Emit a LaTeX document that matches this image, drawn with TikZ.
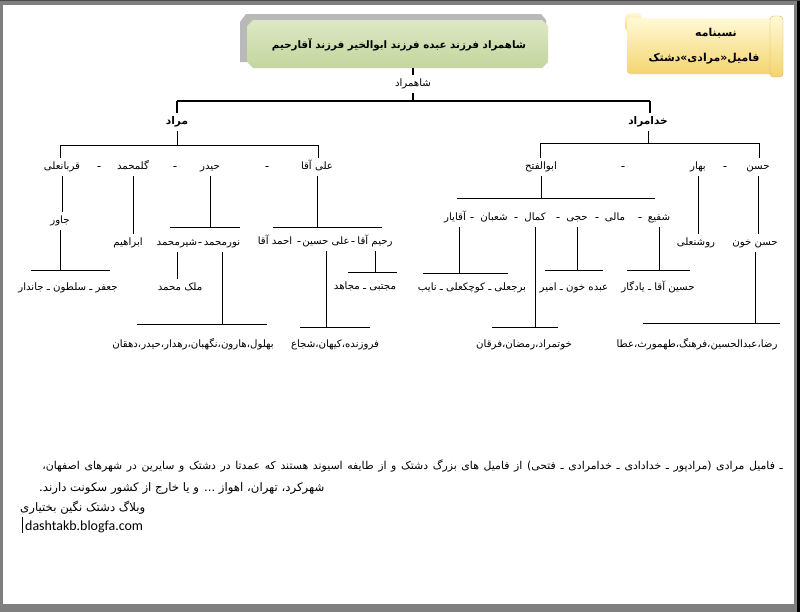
\documentclass[tikz,border=0pt]{standalone}
\usepackage{fontspec}
\newfontfamily\fa[Script=Arabic]{DejaVu Sans}
\newfontfamily\blogfont{Carlito}
\TeXXeTstate=1
\newcommand{\rl}[1]{\beginR#1\endR}
\usetikzlibrary{positioning}
\definecolor{framegray}{HTML}{7F7F7F}
\definecolor{titletop}{HTML}{DCE8C4}
\definecolor{titlemid}{HTML}{F2F7E6}
\definecolor{titlebot}{HTML}{C3D69E}
\definecolor{cardtop}{HTML}{FFF9D6}
\definecolor{cardbot}{HTML}{F4D46E}
\tikzset{
    tree/.style={font=\fa\fontsize{8.7}{9}\selectfont},
    tree name/.style={inner sep=0pt, outer sep=3pt, text height=7pt, text depth=2.5pt},
    tree head/.style={tree name, font=\fa\bfseries\fontsize{9}{10}\selectfont},
    tree dash/.style={inner sep=0pt},
    tree edge/.style={line width=0.6pt},
    tree trunk/.style={line width=2pt},
    tree stem/.style={line width=1.2pt},
}

\begin{document}
\begin{tikzpicture}[x=0.03cm, y=-0.03cm, tree,
    title/.style={font=\fa\bfseries\fontsize{8.8}{10}\selectfont, inner sep=1pt},
    card/.style={font=\fa\bfseries\fontsize{9.3}{10}\selectfont, inner sep=1pt},
    note/.style={inner sep=0pt, anchor=base east, font=\fa\fontsize{9.3}{10}\selectfont}
  ]
    \useasboundingbox (0,0) rectangle (800,612);
    % frame
    \fill[framegray] (0,0) rectangle (800,612);
    \fill[white] (3,5) rectangle (794,604);
    \fill[black] (797,0) rectangle (800,612);
    \fill[black!70] (0,0) rectangle (800,1);

    % title scroll
    \fill[gray!55] (240,22) -- (246,14) -- (541,14) -- (546,20) -- (546,62) -- (240,62) -- cycle;
    \shade[top color=titletop, middle color=titlemid, bottom color=titlebot]
      (247,26) -- (253,20) -- (542,20) -- (548,26) -- (548,62) -- (542,68) -- (253,68) -- (247,62) -- cycle;
    \node[title] (title) at (399,45) {\rl{شاهمراد فرزند عبده فرزند ابوالخیر فرزند آقارحیم}};
    \coordinate (titlebase) at (413,68);

    % name card
    \shade[top color=cardtop, bottom color=cardbot, rounded corners=5pt] (625,13) rectangle (642,32);
    \shade[top color=cardtop, bottom color=cardbot, rounded corners=3pt] (627,18) rectangle (776,74);
    \shade[top color=cardtop, bottom color=cardbot, rounded corners=3pt, draw=cardbot!85!black, line width=0.3pt] (770,16) rectangle (783,77);
    \node[card] (card1) at (716,33) {\rl{نسبنامه}};
    \node[card] (card2) at (704,59) {\rl{فامیل«مرادی»دشتک}};

    % first generations
    \node[tree name] (shahmorad) at (413,84) {\rl{شاهمراد}};
    \node[tree head] (morad) at (177,122) {\rl{مراد}};
    \node[tree head] (khodamorad) at (648,122) {\rl{خدامراد}};
    \coordinate (trunkL) at (177,101);
    \coordinate (trunkR) at (650,101);
    \draw[tree stem] (titlebase) -- (shahmorad);
    \draw[tree stem] (shahmorad) -- (shahmorad |- trunkL);
    \draw[tree trunk] (trunkL) -- (trunkR);
    \draw[tree stem] (trunkL) -- (morad);
    \draw[tree stem] (trunkR) -- (trunkR |- khodamorad.north);

    % children of morad
    \node[tree name] (ghorbanali) at (62,167) {\rl{قربانعلی}};
    \node[tree dash] (md1) at (99,167) {\rl{ـ}};
    \node[tree name] (golmohammad) at (133,167) {\rl{گلمحمد}};
    \node[tree dash] (md2) at (175,167) {\rl{ـ}};
    \node[tree name] (heydar) at (210,167) {\rl{حیدر}};
    \node[tree dash] (md3) at (267,167) {\rl{ـ}};
    \node[tree name] (aliagha) at (317,167) {\rl{علی آقا}};
    \coordinate (mbarL) at (60,145);
    \coordinate (mbarR) at (318,145);
    \draw[tree edge] (morad) -- (morad |- mbarL);
    \draw[tree edge] (mbarL |- ghorbanali.north) -- (mbarL) -- (mbarR) -- (mbarR |- aliagha.north);

    % children of khodamorad
    \node[tree name] (hasan) at (758,167) {\rl{حسن}};
    \node[tree dash] (kd1) at (725,167) {\rl{ـ}};
    \node[tree name] (bahar) at (698,167) {\rl{بهار}};
    \node[tree dash] (kd2) at (623,167) {\rl{ـ}};
    \node[tree name] (abolfath) at (541,167) {\rl{ابوالفتح}};
    \coordinate (kbarL) at (540,143);
    \coordinate (kbarR) at (759,143);
    \draw[tree edge] (khodamorad) -- (khodamorad |- kbarL);
    \draw[tree edge] (kbarL |- abolfath.north) -- (kbarL) -- (kbarR) -- (kbarR |- hasan.north);

    % ghorbanali
    \node[tree name] (javer) at (60,221) {\rl{جاور}};
    \node[tree name] (jafar) at (68,288) {\rl{جعفر ـ سلطون ـ جاندار}};
    \coordinate (jbarL) at (31,270);
    \coordinate (jbarR) at (110,270);
    \draw[tree edge] (ghorbanali.south) -- (ghorbanali.south |- javer.north);
    \draw[tree edge] (javer.south) -- (javer.south |- jbarL);
    \draw[tree edge] (jbarL) -- (jbarR);

    % golmohammad
    \node[tree name] (ebrahim) at (128,243) {\rl{ابراهیم}};
    \draw[tree edge] (golmohammad.south) -- (golmohammad.south |- ebrahim.north);

    % heydar
    \node[tree name] (shirmohammad) at (177,243) {\rl{شیرمحمد}};
    \node[tree dash] (hd1) at (200,243) {\rl{ـ}};
    \node[tree name] (nourmohammad) at (222,243) {\rl{نورمحمد}};
    \node[tree name] (malekmohammad) at (180,288) {\rl{ملک محمد}};
    \node[tree name] (bohlul) at (193,345) {\rl{بهلول،هارون،نگهبان،رهدار،حیدر،دهقان}};
    \coordinate (hbarL) at (170,227);
    \coordinate (hbarR) at (240,227);
    \coordinate (nbarL) at (137,324);
    \coordinate (nbarR) at (267,324);
    \draw[tree edge] (heydar.south) -- (heydar.south |- hbarL);
    \draw[tree edge] (hbarL) -- (hbarR);
    \draw[tree edge] (shirmohammad.south) -- (shirmohammad.south |- malekmohammad.north);
    \draw[tree edge] (nourmohammad.south) -- (nourmohammad.south |- nbarL);
    \draw[tree edge] (nbarL) -- (nbarR);

    % aliagha
    \node[tree name] (ahmadagha) at (275,242) {\rl{احمد آقا}};
    \node[tree dash] (ad1) at (299,242) {\rl{ـ}};
    \node[tree name] (alihossein) at (326,242) {\rl{علی حسین}};
    \node[tree dash] (ad2) at (353,242) {\rl{ـ}};
    \node[tree name] (rahimagha) at (375,242) {\rl{رحیم آقا}};
    \node[tree name] (mojtaba) at (365,287) {\rl{مجتبی ـ مجاهد}};
    \node[tree name] (forouzandeh) at (335,345) {\rl{فروزنده،کیهان،شجاع}};
    \coordinate (abarL) at (273,227);
    \coordinate (abarR) at (382,227);
    \coordinate (rbarL) at (348,272);
    \coordinate (rbarR) at (397,272);
    \coordinate (fbarL) at (300,327);
    \coordinate (fbarR) at (370,327);
    \draw[tree edge] (aliagha.south) -- (aliagha.south |- abarL);
    \draw[tree edge] (abarL) -- (abarR);
    \draw[tree edge] (rahimagha.south) -- (rahimagha.south |- rbarL);
    \draw[tree edge] (rbarL) -- (rbarR);
    \draw[tree edge] (alihossein.south) -- (alihossein.south |- fbarL);
    \draw[tree edge] (fbarL) -- (fbarR);

    % hasan
    \node[tree name] (hasankhoun) at (755,243) {\rl{حسن خون}};
    \node[tree name] (reza) at (697,345) {\rl{رضا،عبدالحسین،فرهنگ،طهمورث،عطا}};
    \coordinate (zbarL) at (643,323);
    \coordinate (zbarR) at (780,323);
    \draw[tree edge] (hasan.south) -- (hasan.south |- hasankhoun.north);
    \draw[tree edge] (hasankhoun.south) -- (hasankhoun.south |- zbarL);
    \draw[tree edge] (zbarL) -- (zbarR);

    % bahar
    \node[tree name] (roshanali) at (696,243) {\rl{روشنعلی}};
    \draw[tree edge] (bahar.south) -- (bahar.south |- roshanali.north);

    % abolfath
    \node[tree name] (shafi) at (659,218) {\rl{شفیع}};
    \node[tree dash] (fd1) at (640,218) {\rl{ـ}};
    \node[tree name] (mali) at (615,218) {\rl{مالی}};
    \node[tree dash] (fd2) at (597,218) {\rl{ـ}};
    \node[tree name] (haji) at (577,218) {\rl{حجی}};
    \node[tree dash] (fd3) at (558,218) {\rl{ـ}};
    \node[tree name] (kamal) at (535,218) {\rl{کمال}};
    \node[tree dash] (fd4) at (516,218) {\rl{ـ}};
    \node[tree name] (shaban) at (494,218) {\rl{شعبان}};
    \node[tree dash] (fd5) at (472,218) {\rl{ـ}};
    \node[tree name] (aghayar) at (455,218) {\rl{آقایار}};
    \coordinate (fbarL2) at (457,198);
    \coordinate (fbarR2) at (655,198);
    \draw[tree edge] (abolfath.south) -- (abolfath.south |- fbarL2);
    \draw[tree edge] (fbarL2) -- (fbarR2);

    \node[tree name] (barjali) at (472,288) {\rl{برجعلی ـ کوچکعلی ـ نایب}};
    \node[tree name] (khotmorad) at (524,345) {\rl{خوتمراد،رمضان،فرقان}};
    \node[tree name] (abdeh) at (574,288) {\rl{عبده خون ـ امیر}};
    \node[tree name] (hosseinagha) at (658,288) {\rl{حسین آقا ـ یادگار}};
    \coordinate (gbarL) at (423,273);
    \coordinate (gbarR) at (508,273);
    \coordinate (kmbarL) at (492,327);
    \coordinate (kmbarR) at (558,327);
    \coordinate (hjbarL) at (545,270);
    \coordinate (hjbarR) at (603,270);
    \coordinate (sfbarL) at (627,270);
    \coordinate (sfbarR) at (690,270);
    \draw[tree edge] ([xshift=4pt]aghayar.south) -- ([xshift=4pt]aghayar.south |- gbarL);
    \draw[tree edge] (gbarL) -- (gbarR);
    \draw[tree edge] (kamal.south) -- (kamal.south |- kmbarL);
    \draw[tree edge] (kmbarL) -- (kmbarR);
    \draw[tree edge] (haji.south) -- (haji.south |- hjbarL);
    \draw[tree edge] (hjbarL) -- (hjbarR);
    \draw[tree edge] (shafi.south) -- (shafi.south |- sfbarL);
    \draw[tree edge] (sfbarL) -- (sfbarR);

    % note
    \node[note] (note1) at (783,469) {\hbox to 632pt{\beginR ـ فامیل مرادی (مرادپور ـ خدادادی ـ خدامرادی ـ فتحی) از فامیل های بزرگ دشتک و از طایفه اسیوند هستند که عمدتا در دشتک و سایرین در شهرهای اصفهان،\endR}};
    \node[note, anchor=base west, font=\fa\fontsize{10}{11}\selectfont] (note2) at (39,491) {\rl{شهرکرد، تهران، اهواز ... و یا خارج از کشور سکونت دارند.}};
    \node[note, anchor=base west, font=\fa\fontsize{10}{11}\selectfont] (blog) at (20,511) {\rl{وبلاگ دشتک نگین بختیاری}};
    \node[note, anchor=base west, font=\blogfont\fontsize{11.9}{13}\selectfont] (url) at (25,530) {dashtakb.blogfa.com};
    \draw[line width=0.6pt] ([xshift=-2pt]url.west |- 0,517) -- ([xshift=-2pt]url.west |- 0,533);
  \end{tikzpicture}
\end{document}
